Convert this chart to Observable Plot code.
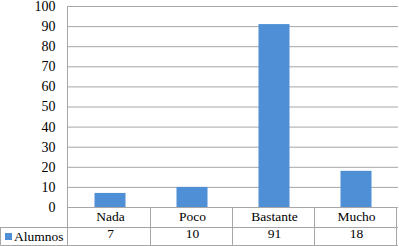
<!DOCTYPE html>
<html>
<head>
<meta charset="utf-8">
<script src="https://cdn.jsdelivr.net/npm/d3@7"></script>
<script src="https://cdn.jsdelivr.net/npm/@observablehq/plot@0.6"></script>
<style>
  html, body { margin: 0; padding: 0; background: #fff; }
  #chart svg { display: block; }
</style>
</head>
<body>
<div id="chart"></div>
<script>
const categories = ["Nada", "Poco", "Bastante", "Mucho"];
const values = [7, 10, 91, 18];
const seriesName = "Alumnos";
const yTicks = [0, 10, 20, 30, 40, 50, 60, 70, 80, 90, 100];

const data = categories.map((c, i) => ({cat: c, val: values[i]}));
const BLUE = "#4e8fd5";
const GRID = "#a6a6a6";
const FONT = "Liberation Serif, Times New Roman, DejaVu Serif, serif";

function tableLines(index, scales, vals, dims) {
  const x = scales.x;
  const bw = typeof x.bandwidth === "function" ? x.bandwidth() : x.bandwidth;
  const base = scales.y(0);
  const rowSep = base + 20;
  const bottom = dims.height - 1;
  const left = dims.marginLeft;
  const right = dims.width - dims.marginRight;
  const g = d3.create("svg:g").attr("stroke", GRID).attr("stroke-width", 1).attr("fill", "none");
  const line = (x1, y1, x2, y2) => g.append("line").attr("x1", x1).attr("y1", y1).attr("x2", x2).attr("y2", y2);
  line(0.5, rowSep + 0.5, right, rowSep + 0.5);
  line(0.5, bottom + 0.5, right, bottom + 0.5);
  line(0.5, rowSep, 0.5, bottom + 0.5);
  line(left + 0.5, scales.y(100), left + 0.5, bottom + 0.5);
  categories.forEach((c) => {
    const xr = Math.round(x(c) + bw) - 0.5;
    line(xr, base, xr, bottom + 0.5);
  });
  const lg = d3.create("svg:g").attr("text-anchor", "start");
  lg.append("rect").attr("x", 5).attr("y", rowSep + 6).attr("width", 7).attr("height", 7).attr("fill", BLUE);
  lg.append("text").attr("x", 14).attr("y", (rowSep + bottom) / 2 + 1).attr("dy", "0.32em")
    .attr("text-anchor", "start")
    .attr("font-size", 13.5).attr("fill", "#000").text(seriesName);
  const outer = d3.create("svg:g");
  outer.append(() => g.node());
  outer.append(() => lg.node());
  return outer.node();
}

const chart = Plot.plot({
  width: 399,
  height: 246,
  marginLeft: 67,
  marginRight: 1,
  marginTop: 6,
  marginBottom: 39,
  style: {fontSize: "13.5px", color: "#000", background: "#fff", fontFamily: FONT},
  x: {domain: categories, padding: 0, label: null},
  y: {domain: [0, 100], label: null},
  marks: [
    Plot.ruleY(yTicks, {stroke: GRID, strokeWidth: 1, strokeOpacity: 1}),
    Plot.barY(data, {x: "cat", y: "val", fill: BLUE, insetLeft: 25.5, insetRight: 25.5}),
    Plot.axisY({ticks: yTicks, tickSize: 0, tickPadding: 12, fontSize: 14, label: null}),
    Plot.axisX({tickSize: 0, tickPadding: 4, fontSize: 13.5, label: null}),
    Plot.text(data, {x: "cat", text: d => String(d.val), frameAnchor: "bottom", dy: 30, fontSize: 13.5, fill: "#000"}),
    tableLines
  ]
});
chart.setAttribute("font-family", FONT);
chart.querySelectorAll("g, text").forEach(el => {
  el.setAttribute("font-family", FONT);
  el.style.fontFamily = FONT;
});
document.getElementById("chart").appendChild(chart);
</script>
</body>
</html>
